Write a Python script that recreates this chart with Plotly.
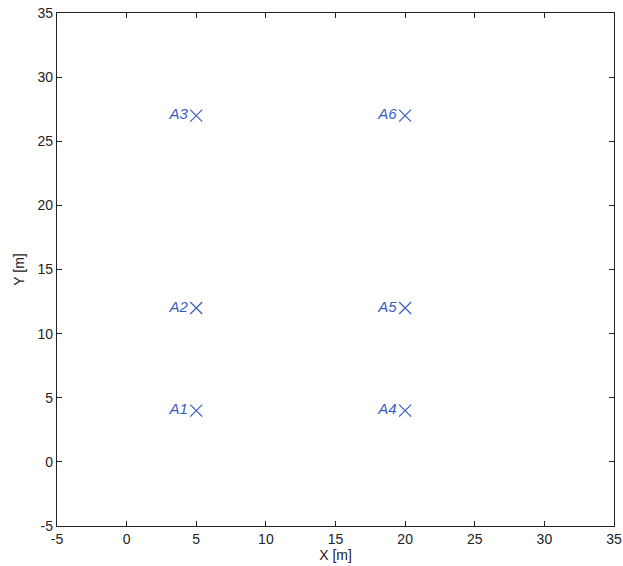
import plotly.graph_objects as go

labels = ["A1", "A2", "A3", "A4", "A5", "A6"]
x_vals = [5, 5, 5, 20, 20, 20]
y_vals = [4, 12, 27, 4, 12, 27]
tick_vals = [-5, 0, 5, 10, 15, 20, 25, 30, 35]

blue = "#3a5cbf"
font_fam = "Liberation Sans, Arial"

fig = go.Figure()
fig.add_trace(go.Scatter(
    x=x_vals, y=y_vals, mode="markers+text",
    text=labels, textposition="middle left",
    textfont=dict(family=font_fam, size=15, color=blue),
    texttemplate="<i>%{text}</i>",
    marker=dict(symbol="x-thin", size=12, line=dict(color=blue, width=1.2), color=blue),
    showlegend=False, cliponaxis=False,
))

axis_common = dict(
    range=[-5, 35], tickvals=tick_vals, ticktext=[str(v) for v in tick_vals],
    showgrid=False, zeroline=False, showline=True, linecolor="#222", linewidth=1.3,
    mirror="ticks", ticks="inside", ticklen=5, tickcolor="#222", tickwidth=1,
    tickfont=dict(family=font_fam, size=14, color="#222"), automargin=False,
)
fig.update_xaxes(**axis_common, title=dict(text="X [m]", standoff=2,
                 font=dict(family=font_fam, size=14, color="#222")))
fig.update_yaxes(**axis_common, title=dict(text="Y [m]", standoff=9,
                 font=dict(family=font_fam, size=14, color="#222")))

fig.update_layout(
    width=623, height=566,
    margin=dict(l=57, r=9, t=13, b=40),
    plot_bgcolor="white", paper_bgcolor="white",
)
fig.write_html(
    "out.html",
    config={"displayModeBar": False},
    post_script="document.body.style.margin='0';document.body.style.overflow='hidden';",
)
